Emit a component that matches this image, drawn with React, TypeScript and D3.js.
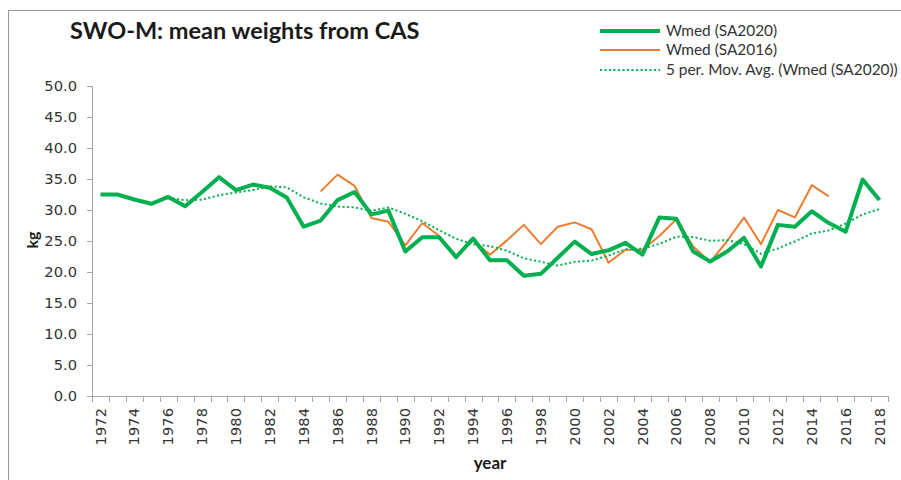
import React, { useEffect } from "react";
import * as d3 from "d3";

const years: number[] = d3.range(1972, 2019);

const wmedSA2020: number[] = [
  32.5, 32.5, 31.7, 31.0, 32.1, 30.6, 32.9, 35.3, 33.2, 34.1,
  33.6, 32.0, 27.3, 28.3, 31.6, 32.9, 29.3, 29.9, 23.3, 25.6,
  25.6, 22.4, 25.4, 21.9, 21.9, 19.4, 19.7, 22.3, 24.9, 22.9,
  23.5, 24.7, 22.8, 28.8, 28.6, 23.3, 21.7, 23.3, 25.5, 20.9,
  27.6, 27.3, 29.8, 27.9, 26.5, 34.9, 31.6,
];

const sa2016Years: number[] = d3.range(1985, 2016);
const wmedSA2016: number[] = [
  33.0, 35.7, 33.9, 28.7, 28.1, 24.3, 27.9, 25.8, 22.5, 25.1,
  22.8, 25.1, 27.6, 24.5, 27.3, 28.0, 26.9, 21.5, 23.6, 23.6,
  25.8, 28.5, 24.1, 21.6, 25.0, 28.8, 24.5, 30.0, 28.8, 34.0,
  32.2,
];

const yTicks: number[] = d3.range(0, 50.001, 5);
const seriesNames: string[] = ["Wmed (SA2020)", "Wmed (SA2016)", "5 per. Mov. Avg. (Wmed (SA2020))"];
const titleText = "SWO-M: mean weights from CAS";

const GREEN = "#00B050";
const ORANGE = "#ED7D31";
const AXIS = "#a6a6a6";

export default function App() {
  useEffect(() => {
    document.body.style.margin = "0";
  }, []);

  const W = 901, H = 480;
  const left = 92, right = 888, top = 86, bottom = 396;

  const x = d3.scaleBand<number>().domain(years).range([left, right]).padding(0);
  const cx = (yr: number) => (x(yr) as number) + x.bandwidth() / 2;
  const y = d3.scaleLinear().domain([0, 50]).range([bottom, top]);

  const line = d3.line<[number, number]>().x((d) => cx(d[0])).y((d) => y(d[1]));

  const greenPts: [number, number][] = years.map((yr, i) => [yr, wmedSA2020[i]]);
  const orangePts: [number, number][] = sa2016Years.map((yr, i) => [yr, wmedSA2016[i]]);
  // 5-period moving average trendline of Wmed (SA2020), as Excel draws it
  const maPts: [number, number][] = years
    .map((yr, i) => (i >= 4 ? [yr, d3.mean(wmedSA2020.slice(i - 4, i + 1)) as number] : null))
    .filter((d): d is [number, number] => d !== null);

  const tickFont = "'DejaVu Sans', Verdana, sans-serif";
  const textFont = "Lato, 'Open Sans', sans-serif";

  const legendY = [31, 50, 70];

  return (
    <svg width={W} height={H} style={{ display: "block", background: "#fff" }}>
      <rect x={8.5} y={10.5} width={900} height={480} fill="none" stroke="#9a9a9a" strokeWidth={1} />

      <text x={70} y={39} fontFamily={textFont} fontWeight="bold" fontSize={23.5} fill="#1a1a1a">
        {titleText}
      </text>

      {/* Legend */}
      <g fontFamily={textFont} fontSize={15.4} fill="#333">
        <line x1={600} x2={660} y1={legendY[0]} y2={legendY[0]} stroke={GREEN} strokeWidth={4} />
        <line x1={600} x2={660} y1={legendY[1]} y2={legendY[1]} stroke={ORANGE} strokeWidth={2} />
        <line x1={600} x2={660} y1={legendY[2]} y2={legendY[2]} stroke={GREEN} strokeWidth={2} strokeDasharray="2 2.5" />
        {seriesNames.map((s, i) => (
          <text key={s} x={666} y={legendY[i]} dy="0.35em">
            {s}
          </text>
        ))}
      </g>

      {/* Y axis */}
      <line x1={left + 0.5} x2={left + 0.5} y1={top} y2={bottom} stroke={AXIS} strokeWidth={1} />
      {yTicks.map((t) => (
        <g key={t}>
          <line x1={left - 5} x2={left} y1={Math.round(y(t)) + 0.5} y2={Math.round(y(t)) + 0.5} stroke={AXIS} />
          <text
            x={77}
            y={y(t)}
            dy="0.35em"
            textAnchor="end"
            fontFamily={tickFont}
            fontSize={14.7}
            fill="#333"
          >
            {t.toFixed(1)}
          </text>
        </g>
      ))}

      {/* X axis */}
      <line x1={left} x2={right} y1={bottom + 0.5} y2={bottom + 0.5} stroke={AXIS} strokeWidth={1} />
      {years.concat([years[years.length - 1] + 1]).map((yr, i) => {
        const xp = Math.round(left + i * x.bandwidth()) + 0.5;
        return <line key={"t" + yr} x1={xp} x2={xp} y1={bottom} y2={bottom + 6} stroke={AXIS} />;
      })}
      {years
        .filter((yr) => yr % 2 === 0)
        .map((yr) => (
          <text
            key={"l" + yr}
            transform={`translate(${cx(yr)},${bottom + 12}) rotate(-90)`}
            dy="0.35em"
            textAnchor="end"
            fontFamily={tickFont}
            fontSize={14.7}
            fill="#333"
          >
            {yr}
          </text>
        ))}

      {/* Axis titles */}
      <text
        transform={`translate(32,240) rotate(-90)`}
        textAnchor="middle"
        dy="0.35em"
        fontFamily={textFont}
        fontWeight="bold"
        fontSize={16}
        fill="#1a1a1a"
      >
        kg
      </text>
      <text x={490} y={469} textAnchor="middle" fontFamily={textFont} fontWeight="bold" fontSize={17} fill="#1a1a1a">
        year
      </text>

      {/* Series */}
      <path d={line(orangePts) as string} fill="none" stroke={ORANGE} strokeWidth={2} strokeLinejoin="round" />
      <path d={line(maPts) as string} fill="none" stroke={GREEN} strokeWidth={2} strokeDasharray="2 2.5" />
      <path d={line(greenPts) as string} fill="none" stroke={GREEN} strokeWidth={4} strokeLinejoin="round" />
    </svg>
  );
}
